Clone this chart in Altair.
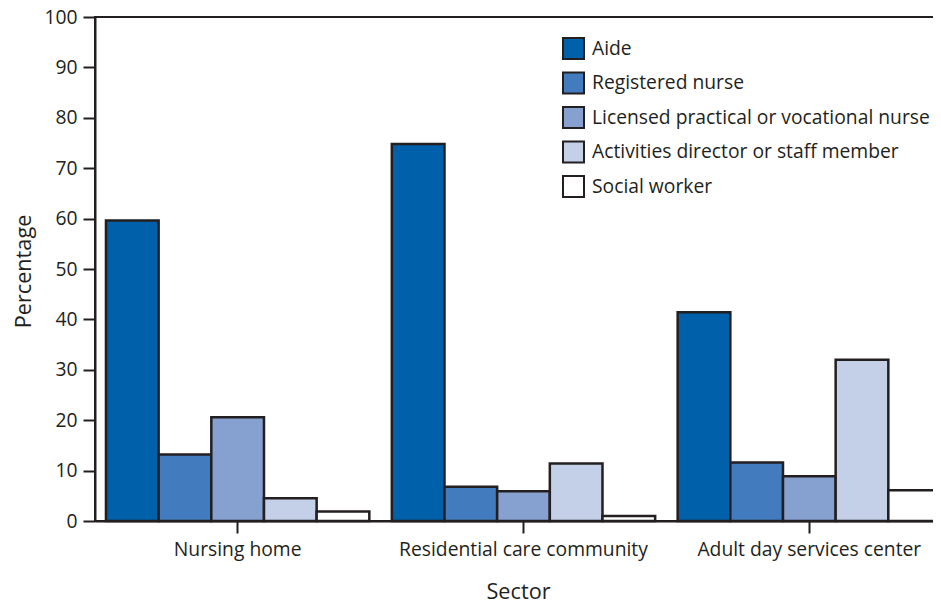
import altair as alt
import pandas as pd

sectors = ["Nursing home", "Residential care community", "Adult day services center"]
occupations = [
    "Aide",
    "Registered nurse",
    "Licensed practical or vocational nurse",
    "Activities director or staff member",
    "Social worker",
]
nursing_home = [59.6, 13.2, 20.6, 4.5, 1.9]
residential_care = [74.8, 6.8, 5.9, 11.4, 1.0]
adult_day = [41.4, 11.6, 8.9, 32.0, 6.1]
colors = ["#0060A9", "#437CBE", "#86A1D0", "#C4D0E8", "#FFFFFF"]
y_ticks = [0, 10, 20, 30, 40, 50, 60, 70, 80, 90, 100]

rows = []
for sector, vals in zip(sectors, [nursing_home, residential_care, adult_day]):
    for occ, v in zip(occupations, vals):
        rows.append({"Sector": sector, "Occupation": occ, "Percentage": v})
df = pd.DataFrame(rows)

FONT = "Open Sans"
INK = "#231F20"
LABEL_SIZE = 19.3
TITLE_SIZE = 21.7

chart = alt.Chart(df).mark_bar(stroke=INK, strokeWidth=2.5).encode(
    x=alt.X(
        "Sector:N",
        sort=sectors,
        title="Sector",
        scale=alt.Scale(paddingInner=0.0787, paddingOuter=0.0192, align=1),
        axis=alt.Axis(
            labelAngle=0,
            tickSize=12,
            tickWidth=2,
            tickColor=INK,
            domainWidth=2,
            domainColor=INK,
            labelFontSize=LABEL_SIZE,
            labelColor=INK,
            labelBaseline="alphabetic",
            labelPadding=22,
            labelLimit=400,
            titleFontSize=TITLE_SIZE,
            titleFontWeight="normal",
            titleColor=INK,
            titleX=423,
            titleY=77,
            titleBaseline="alphabetic",
        ),
    ),
    xOffset=alt.XOffset(
        "Occupation:N", sort=occupations, scale=alt.Scale(paddingInner=0, paddingOuter=0)
    ),
    y=alt.Y(
        "Percentage:Q",
        title="Percentage",
        scale=alt.Scale(domain=[0, 100], nice=False),
        axis=alt.Axis(
            values=y_ticks,
            grid=False,
            tickSize=12,
            tickWidth=2,
            tickColor=INK,
            domainWidth=2,
            domainColor=INK,
            labelFontSize=LABEL_SIZE,
            labelColor=INK,
            labelPadding=6,
            titleFontSize=TITLE_SIZE,
            titleFontWeight="normal",
            titleColor=INK,
            titleX=-72,
            titleY=254,
            titleBaseline="middle",
            titleAlign="center",
        ),
    ),
    color=alt.Color(
        "Occupation:N",
        sort=occupations,
        scale=alt.Scale(domain=occupations, range=colors),
        legend=alt.Legend(
            title=None,
            orient="none",
            legendX=467,
            legendY=20,
            padding=0,
            symbolType="square",
            symbolSize=441,
            symbolStrokeColor=INK,
            symbolStrokeWidth=2,
            symbolOpacity=1,
            labelFontSize=LABEL_SIZE,
            labelColor=INK,
            labelOffset=7,
            rowPadding=5.5,
            labelLimit=400,
        ),
    ),
).properties(
    width=846,
    height=504,
    autosize=alt.AutoSizeParams(type="none"),
    padding={"left": 87, "top": 9, "right": -8, "bottom": 80},
).configure(
    font=FONT,
).configure_view(
    stroke=INK,
    strokeWidth=2,
)

chart.save("out.html", embed_options={"renderer": "svg", "actions": False})
